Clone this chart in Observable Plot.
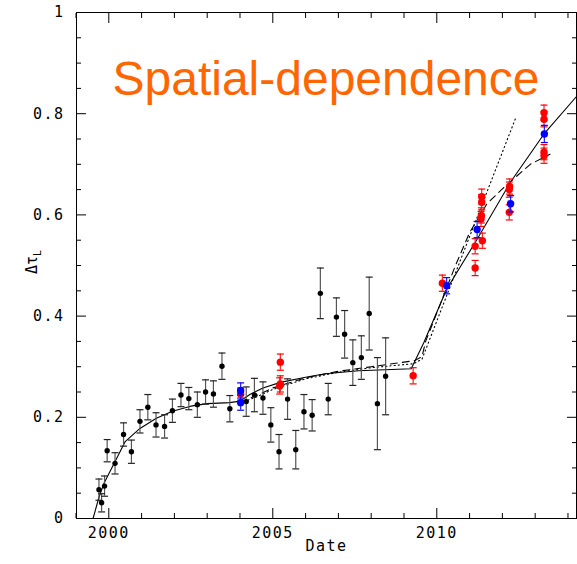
<!DOCTYPE html>
<html><head><meta charset="utf-8">
<script src="https://cdn.jsdelivr.net/npm/d3@7"></script>
<script src="https://cdn.jsdelivr.net/npm/@observablehq/plot@0.6"></script>
<style>
body{margin:0;background:#fff}
g[aria-label$="tick label"] text{letter-spacing:1.5px}
g.xtitle text{letter-spacing:1.5px}
</style>
</head><body><div id="chart"></div>
<script>
// ---- data ----
const blackYear = [1999.70,1999.78,1999.87,1999.95,2000.19,2000.45,2000.69,2000.95,2001.19,2001.44,2001.70,2001.94,2002.20,2002.44,2002.70,2002.95,2003.19,2003.45,2003.69,2004.19,2004.44,2004.70,2004.94,2005.19,2005.45,2005.70,2005.95,2006.20,2006.45,2006.69,2006.94,2007.19,2007.44,2007.70,2007.94,2008.19,2008.44];
const blackVal  = [0.057,0.031,0.064,0.134,0.109,0.166,0.132,0.192,0.220,0.185,0.182,0.213,0.244,0.237,0.225,0.250,0.246,0.301,0.217,0.231,0.244,0.238,0.185,0.132,0.236,0.136,0.211,0.204,0.445,0.236,0.398,0.364,0.308,0.318,0.405,0.227,0.281];
const blackErr  = [0.021,0.018,0.020,0.022,0.021,0.023,0.023,0.023,0.025,0.024,0.023,0.023,0.023,0.022,0.025,0.024,0.026,0.026,0.026,0.029,0.033,0.032,0.034,0.034,0.040,0.038,0.034,0.031,0.050,0.031,0.038,0.047,0.045,0.043,0.072,0.091,0.076];

const redYear = [2004.02,2005.23,2005.23,2005.21,2009.28,2010.17,2011.17,2011.17,2011.39,2011.35,2011.36,2011.37,2011.37,2012.21,2012.22,2012.21,2013.27,2013.27,2013.27,2013.27];
const redVal  = [0.246,0.309,0.266,0.262,0.282,0.465,0.495,0.538,0.549,0.592,0.599,0.625,0.636,0.650,0.656,0.605,0.802,0.789,0.724,0.717];
const redErr  = [0.012,0.016,0.016,0.016,0.016,0.016,0.015,0.015,0.015,0.015,0.015,0.015,0.015,0.015,0.015,0.015,0.015,0.015,0.015,0.015];

const blueYear = [2004.02,2004.02,2010.30,2011.23,2012.25,2013.28];
const blueVal  = [0.253,0.229,0.460,0.571,0.622,0.760];
const blueErr  = [0.015,0.015,0.016,0.016,0.016,0.017];

const solidYear = [1999.52,1999.70,1999.85,2000.18,2000.50,2000.95,2001.45,2001.94,2002.50,2003.00,2003.69,2004.00,2004.30,2004.70,2005.23,2006.00,2006.60,2007.62,2009.22,2009.60,2010.30,2011.23,2012.25,2013.27,2014.26];
const solidVal  = [0.000,0.042,0.069,0.111,0.152,0.178,0.198,0.212,0.222,0.227,0.229,0.232,0.245,0.258,0.269,0.279,0.286,0.292,0.296,0.347,0.453,0.552,0.665,0.760,0.834];

const dashedYear = [2004.00,2004.50,2005.00,2006.00,2007.00,2008.00,2009.33,2009.55,2009.66,2010.57,2011.00,2011.53,2012.04,2012.85,2013.45];
const dashedVal  = [0.230,0.243,0.258,0.278,0.291,0.300,0.312,0.320,0.350,0.500,0.565,0.622,0.654,0.700,0.720];

const dottedYear = [2004.00,2004.50,2005.00,2006.00,2007.00,2008.00,2009.30,2009.55,2012.42];
const dottedVal  = [0.228,0.240,0.255,0.276,0.289,0.298,0.306,0.315,0.794];

const xLabelTicks = [2000, 2005, 2010];
const xMinorTicks = [1999, 2001, 2002, 2003, 2004, 2006, 2007, 2008, 2009, 2011, 2012, 2013, 2014];
const yLabelTicks = [0, 0.2, 0.4, 0.6, 0.8, 1];
const yMinorTicks = [0.05,0.1,0.15,0.25,0.3,0.35,0.45,0.5,0.55,0.65,0.7,0.75,0.85,0.9,0.95];

const titleText = "Spatial-dependence";
const xTitle = "Date";

// ---- build tables ----
const pts = (xs, ys, es) => xs.map((x, i) => ({x, y: ys[i], e: es[i]}));
const line = (xs, ys) => xs.map((x, i) => ({x, y: ys[i]}));
const black = pts(blackYear, blackVal, blackErr);
const red = pts(redYear, redVal, redErr);
const blue = pts(blueYear, blueVal, blueErr);
const solid = line(solidYear, solidVal);
const dashed = line(dashedYear, dashedVal);
const dotted = line(dottedYear, dottedVal);

const mono = "'DejaVu Sans Mono', monospace";
const cap = {draw(ctx) { ctx.moveTo(-3.5, 0); ctx.lineTo(3.5, 0); }};

function errMarks(data, color, capColor, r, fill) {
  return [
    Plot.ruleX(data, {x: "x", y1: d => d.y - d.e, y2: d => d.y + d.e, stroke: color, strokeWidth: 1.2}),
    Plot.dot(data, {x: "x", y: d => d.y - d.e, symbol: cap, stroke: capColor, strokeWidth: 1.2, r: 3}),
    Plot.dot(data, {x: "x", y: d => d.y + d.e, symbol: cap, stroke: capColor, strokeWidth: 1.2, r: 3}),
    Plot.dot(data, {x: "x", y: "y", r, fill, stroke: "none"})
  ];
}

const blank = () => "";

const chart = Plot.plot({
  width: 577, height: 564,
  marginLeft: 76, marginRight: 1, marginTop: 12, marginBottom: 46,
  style: {fontFamily: mono, fontSize: "15px", background: "#fff", color: "#000"},
  x: {domain: [1999.015, 2014.26]},
  y: {domain: [0, 1]},
  marks: [
    // ticks on all four sides, pointing inward
    Plot.axisX(xLabelTicks, {anchor: "bottom", tickSize: -10, tickFormat: blank, label: null}),
    Plot.axisX(xMinorTicks, {anchor: "bottom", tickSize: -5, tickFormat: blank, label: null}),
    Plot.axisX(xLabelTicks, {anchor: "top", tickSize: -10, tickFormat: blank, label: null}),
    Plot.axisX(xMinorTicks, {anchor: "top", tickSize: -5, tickFormat: blank, label: null}),
    Plot.axisY(yLabelTicks, {anchor: "left", tickSize: -10, tickFormat: blank, label: null}),
    Plot.axisY(yMinorTicks, {anchor: "left", tickSize: -5, tickFormat: blank, label: null}),
    Plot.axisY(yLabelTicks, {anchor: "right", tickSize: -10, tickFormat: blank, label: null}),
    Plot.axisY(yMinorTicks, {anchor: "right", tickSize: -5, tickFormat: blank, label: null}),
    // tick labels
    Plot.axisX(xLabelTicks, {anchor: "bottom", tickSize: 0, tickPadding: 9, tickFormat: d => String(d), label: null, fontSize: 15}),
    Plot.axisY(yLabelTicks, {anchor: "left", tickSize: 0, tickPadding: 12, tickFormat: d => String(d), label: null, fontSize: 15}),
    Plot.text([xTitle], {text: d => d, frameAnchor: "bottom", dy: 32, fontSize: 15, fontFamily: mono, className: "xtitle"}),
    Plot.frame({stroke: "black"}),
    // title
    Plot.text([titleText], {text: d => d, frameAnchor: "top-left", textAnchor: "start", dx: 36, dy: 48,
      fontSize: 48, fill: "#ff6600", fontFamily: "'Liberation Sans', Arial, sans-serif"}),
    // model curves
    Plot.line(solid, {x: "x", y: "y", stroke: "black", strokeWidth: 1.1}),
    Plot.line(dashed, {x: "x", y: "y", stroke: "black", strokeWidth: 1.1, strokeDasharray: "7,5"}),
    Plot.line(dotted, {x: "x", y: "y", stroke: "black", strokeWidth: 1.1, strokeDasharray: "1.2,3"}),
    // data
    ...errMarks(black, "#555", "#222", 2.7, "black"),
    ...errMarks(red, "#ff2020", "#ff0000", 3.7, "#ff0000"),
    ...errMarks(blue, "#2020ff", "#0000ff", 3.7, "#0000ff")
  ]
});

document.getElementById("chart").appendChild(chart);

// y-axis title with subscript
const svg = d3.select(chart);
const yt = svg.append("text")
  .attr("transform", "translate(37,262) rotate(-90)")
  .attr("text-anchor", "middle")
  .attr("font-family", mono)
  .attr("font-size", 15)
  .attr("fill", "black");
yt.append("tspan").text("Δτ");
yt.append("tspan").attr("dy", 4).attr("font-size", 10).text("L");
</script>
</body></html>
